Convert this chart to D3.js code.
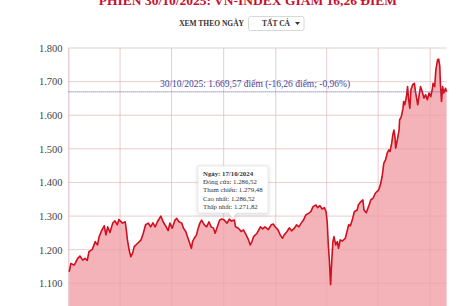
<!DOCTYPE html>
<html><head><meta charset="utf-8">
<script src="https://cdn.jsdelivr.net/npm/d3@7"></script>
<style>
html,body{margin:0;padding:0;background:#fff;overflow:hidden;}
svg{display:block;font-family:"Liberation Serif","DejaVu Serif",serif;}
</style></head>
<body><svg id="c" width="470" height="306"></svg>
<script>
const title = "PHIÊN 30/10/2025: VN-INDEX GIẢM 16,26 ĐIỂM";
const filterLabel = "XEM THEO NGÀY";
const filterValue = "TẤT CẢ";
const yTicks = [1100, 1200, 1300, 1400, 1500, 1600, 1700, 1800];
const refValue = 1669.57;
const refLabel = "30/10/2025: 1.669,57 điểm (-16,26 điểm; -0,96%)";
const tipDate = "2024-10-17";
const tipLines = ["Ngày: 17/10/2024", "Đóng cửa: 1.286,52", "Tham chiếu: 1.279,48", "Cao nhất: 1.286,52", "Thấp nhất: 1.271,82"];

const dates = [
"2024-01-02","2024-01-05","2024-01-11","2024-01-17","2024-01-21","2024-01-26","2024-01-30","2024-02-03","2024-02-06","2024-02-12",
"2024-02-17","2024-02-21","2024-02-24","2024-02-29","2024-03-04","2024-03-07","2024-03-10","2024-03-14","2024-03-19","2024-03-23",
"2024-03-27","2024-03-30","2024-04-05","2024-04-10","2024-04-12","2024-04-14","2024-04-17","2024-04-20","2024-04-23","2024-04-26",
"2024-05-02","2024-05-08","2024-05-12","2024-05-16","2024-05-21","2024-05-25","2024-05-29","2024-06-02","2024-06-06","2024-06-12",
"2024-06-16","2024-06-20","2024-06-25","2024-06-28","2024-07-02","2024-07-07","2024-07-10","2024-07-14","2024-07-19","2024-07-22",
"2024-07-26","2024-07-29","2024-08-01","2024-08-05","2024-08-07","2024-08-10","2024-08-14","2024-08-17","2024-08-20","2024-08-23",
"2024-08-28","2024-09-01","2024-09-05","2024-09-09","2024-09-13","2024-09-16","2024-09-21","2024-09-24","2024-09-28","2024-10-02",
"2024-10-07","2024-10-11","2024-10-15","2024-10-17","2024-10-20","2024-10-22","2024-10-27","2024-11-01","2024-11-05","2024-11-09",
"2024-11-14","2024-11-17","2024-11-20","2024-11-23","2024-11-29","2024-12-05","2024-12-09","2024-12-13","2024-12-19","2024-12-24",
"2024-12-28","2024-12-31","2025-01-05","2025-01-09","2025-01-13","2025-01-16","2025-01-21","2025-01-25","2025-01-29","2025-02-03",
"2025-02-07","2025-02-11","2025-02-15","2025-02-19","2025-02-23","2025-02-28","2025-03-04","2025-03-08","2025-03-13","2025-03-16",
"2025-03-20","2025-03-24","2025-03-28","2025-03-31","2025-04-02","2025-04-04","2025-04-06","2025-04-08","2025-04-10","2025-04-12",
"2025-04-14","2025-04-17","2025-04-20","2025-04-22","2025-04-25","2025-04-29","2025-05-04","2025-05-07","2025-05-10","2025-05-13",
"2025-05-17","2025-05-20","2025-05-25","2025-05-27","2025-05-30","2025-06-02","2025-06-04","2025-06-06","2025-06-10","2025-06-14",
"2025-06-18","2025-06-22","2025-06-26","2025-07-02","2025-07-05","2025-07-08","2025-07-11","2025-07-14","2025-07-17","2025-07-20",
"2025-07-22","2025-07-25","2025-07-27","2025-07-29","2025-07-31","2025-08-01","2025-08-04","2025-08-07","2025-08-08","2025-08-11",
"2025-08-14","2025-08-15","2025-08-17","2025-08-20","2025-08-22","2025-08-24","2025-08-26","2025-08-28","2025-08-31","2025-09-03",
"2025-09-05","2025-09-07","2025-09-09","2025-09-12","2025-09-14","2025-09-17","2025-09-20","2025-09-23","2025-09-26","2025-09-29",
"2025-10-02","2025-10-05","2025-10-06","2025-10-09","2025-10-11","2025-10-14","2025-10-16","2025-10-18","2025-10-19","2025-10-21",
"2025-10-23","2025-10-25","2025-10-28","2025-10-30"];

const closes = [
1134,1159,1154,1174,1181,1169,1174,1168,1194,1201,
1224,1214,1239,1259,1271,1244,1268,1251,1279,1286,
1274,1290,1279,1283,1259,1229,1199,1179,1189,1209,
1219,1229,1249,1274,1279,1268,1280,1268,1283,1300,
1283,1272,1257,1279,1264,1288,1293,1283,1279,1264,
1254,1239,1224,1204,1224,1234,1244,1264,1279,1288,
1274,1268,1283,1268,1264,1249,1274,1288,1291,1288,
1279,1291,1285,1286.52,1288,1268,1264,1254,1259,1246,
1229,1214,1224,1239,1249,1268,1262,1268,1260,1274,
1276,1268,1259,1244,1234,1244,1254,1265,1256,1264,
1274,1268,1279,1288,1303,1308,1313,1328,1333,1325,
1331,1321,1325,1313,1283,1214,1164,1096,1164,1224,
1239,1214,1224,1204,1229,1226,1234,1254,1274,1271,
1293,1313,1318,1333,1340,1345,1348,1318,1310,1328,
1348,1353,1368,1378,1393,1417,1457,1467,1487,1497,
1492,1517,1542,1556,1532,1502,1527,1556,1586,1596,
1621,1641,1631,1655,1685,1646,1621,1676,1691,1695,
1670,1651,1631,1666,1685,1670,1651,1661,1646,1666,
1655,1680,1695,1685,1735,1765,1767,1745,1695,1641,
1685,1666,1680,1669.57];

const parse = d3.timeParse("%Y-%m-%d");
const data = dates.map((d, i) => ({date: parse(d), v: closes[i]}));

const svg = d3.select("#c");
const left = 68.6, right = 446.6;
const x = d3.scaleTime().domain([parse("2024-01-01"), parse("2025-10-30")]).range([left, right]);
const y = d3.scaleLinear().domain([1000, 1800]).range([316.9, 48]);

// title (partly cut off at top)
svg.append("text").attr("x", 248).attr("y", 5).attr("text-anchor", "middle")
  .attr("fill", "#c8102e").attr("font-weight", "bold").attr("font-size", 13.5)
  .text(title);

// filter control
svg.append("text").attr("x", 244).attr("y", 25.5).attr("text-anchor", "end")
  .attr("fill", "#333").attr("font-weight", "bold").attr("font-size", 7.5)
  .text(filterLabel);
svg.append("rect").attr("x", 248.5).attr("y", 16.5).attr("width", 55.5).attr("height", 14)
  .attr("rx", 2).attr("fill", "#fff").attr("stroke", "#d8d8d8");
svg.append("text").attr("x", 276).attr("y", 25.8).attr("text-anchor", "middle")
  .attr("fill", "#333").attr("font-weight", "bold").attr("font-size", 7.5)
  .text(filterValue);
svg.append("path").attr("d", "M295,22 L300,22 L297.5,25 Z").attr("fill", "#333");

// gridlines
const fmt = v => d3.format(",")(v).replace(/,/g, ".");
svg.append("g").selectAll("line").data(yTicks).join("line")
  .attr("x1", left).attr("x2", right).attr("y1", d => y(d)).attr("y2", d => y(d))
  .attr("stroke", "#ececec").attr("stroke-width", 1);
const qTicks = x.ticks(d3.timeMonth.every(3));
svg.append("g").selectAll("line").data(qTicks).join("line")
  .attr("x1", d => x(d)).attr("x2", d => x(d)).attr("y1", y(1800)).attr("y2", 306)
  .attr("stroke", "#ececec").attr("stroke-width", 1);

// y axis labels
const yAxis = d3.axisLeft(y).tickValues(yTicks).tickFormat(fmt).tickSize(0).tickPadding(6);
const ga = svg.append("g").attr("transform", `translate(${left},0)`).call(yAxis);
ga.select(".domain").attr("stroke", "#e4e4e4");
ga.selectAll("text").attr("fill", "#444").attr("font-size", 10.5)
  .attr("font-family", "'Liberation Serif','DejaVu Serif',serif");

// area + line
const area = d3.area().x(d => x(d.date)).y0(y(1000)).y1(d => y(d.v)).curve(d3.curveLinear);
svg.append("path").datum(data).attr("d", area).attr("fill", "#f3b3b8");
// redraw gridlines over area faintly
svg.append("g").selectAll("line").data(yTicks).join("line")
  .attr("x1", left).attr("x2", x(data[data.length-1].date)).attr("y1", d => y(d)).attr("y2", d => y(d))
  .attr("stroke", "#e59aa1").attr("stroke-opacity", 0.35);
svg.append("g").selectAll("line").data(qTicks).join("line")
  .attr("x1", d => x(d)).attr("x2", d => x(d)).attr("y1", y(1800)).attr("y2", 306)
  .attr("stroke", "#e59aa1").attr("stroke-opacity", 0.35);
const line = d3.line().x(d => x(d.date)).y(d => y(d.v));
svg.append("path").datum(data).attr("d", line).attr("fill", "none")
  .attr("stroke", "#d0101e").attr("stroke-width", 1.6).attr("stroke-linejoin", "round");

// reference line
svg.append("line").attr("x1", left).attr("x2", right).attr("y1", y(refValue)).attr("y2", y(refValue))
  .attr("stroke", "#5a5ab0").attr("stroke-width", 1).attr("stroke-dasharray", "1,1");
svg.append("text").attr("x", 255).attr("y", y(refValue) - 5).attr("text-anchor", "middle")
  .attr("fill", "#4646a0").attr("font-size", 9.5).text(refLabel);

// tooltip
const td = data.find(d => +d.date === +parse(tipDate));
const tx = x(td.date), ty = y(td.v);
const tip = svg.append("g");
const bx = 198, by = 166, bw = 70, bh = 47;
tip.append("path")
  .attr("d", `M${bx},${by} h${bw} v${bh} H${tx+4} l-4,5 l-4,-5 H${bx} Z`)
  .attr("fill", "#fff").attr("stroke", "#e6e6e6").attr("stroke-width", 0.8)
  .style("filter", "drop-shadow(0 1px 2px rgba(0,0,0,0.15))");
tip.selectAll("text").data(tipLines).join("text")
  .attr("x", bx + 5).attr("y", (d, i) => by + 10 + i * 8.2)
  .attr("font-size", 6.8).attr("fill", "#333")
  .attr("font-weight", (d, i) => i === 0 ? "bold" : "normal")
  .text(d => d);
</script></body></html>
